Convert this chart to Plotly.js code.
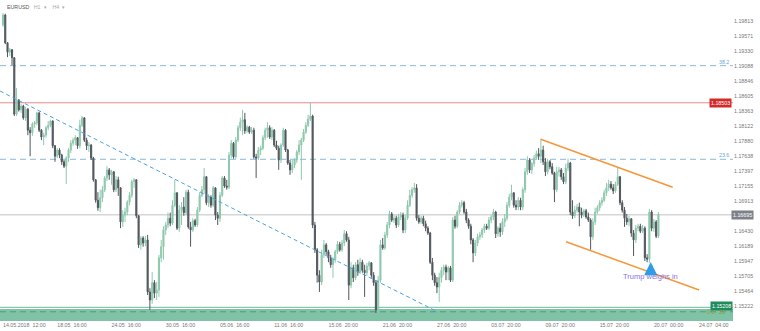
<!DOCTYPE html>
<html><head><meta charset="utf-8">
<script src="https://cdn.plot.ly/plotly-3.0.1.min.js"></script>
<style>html,body{margin:0;padding:0;background:#fff}#chart{width:760px;height:331px}</style>
</head><body><div id="chart"></div>
<script>
// EURUSD H4 candles
const opens = [1.1976,1.1992,1.1947,1.1932,1.1936,1.1923,1.1832,1.1855,1.1839,1.1845,1.1826,1.1840,1.1806,1.1802,1.1816,1.1818,1.1834,1.1806,1.1795,1.1798,
1.1810,1.1814,1.1821,1.1781,1.1764,1.1774,1.1766,1.1755,1.1748,1.1761,1.1774,1.1785,1.1790,1.1794,1.1781,1.1814,1.1826,1.1790,1.1781,1.1782,
1.1761,1.1726,1.1693,1.1681,1.1697,1.1710,1.1729,1.1742,1.1734,1.1739,1.1710,1.1726,1.1713,1.1658,1.1669,1.1674,1.1690,1.1701,1.1723,1.1726,
1.1668,1.1621,1.1632,1.1624,1.1629,1.1545,1.1532,1.1560,1.1543,1.1548,1.1600,1.1618,1.1645,1.1653,1.1664,1.1656,1.1685,1.1705,1.1648,1.1677,
1.1682,1.1673,1.1706,1.1650,1.1645,1.1660,1.1653,1.1677,1.1701,1.1710,1.1731,1.1689,1.1698,1.1685,1.1713,1.1669,1.1664,1.1701,1.1729,1.1716,
1.1714,1.1766,1.1785,1.1763,1.1790,1.1810,1.1819,1.1823,1.1805,1.1811,1.1803,1.1806,1.1763,1.1761,1.1774,1.1777,1.1794,1.1806,1.1810,1.1795,
1.1806,1.1782,1.1777,1.1758,1.1782,1.1806,1.1774,1.1753,1.1742,1.1750,1.1758,1.1771,1.1782,1.1790,1.1803,1.1814,1.1824,1.1829,1.1653,1.1613,
1.1572,1.1561,1.1605,1.1621,1.1610,1.1600,1.1589,1.1597,1.1610,1.1622,1.1613,1.1624,1.1639,1.1629,1.1556,1.1584,1.1568,1.1589,1.1577,1.1593,
1.1580,1.1576,1.1587,1.1592,1.1572,1.1560,1.1516,1.1564,1.1621,1.1616,1.1637,1.1653,1.1671,1.1661,1.1664,1.1653,1.1666,1.1669,1.1645,1.1664,
1.1685,1.1701,1.1710,1.1713,1.1664,1.1658,1.1664,1.1655,1.1648,1.1640,1.1593,1.1572,1.1560,1.1553,1.1568,1.1580,1.1585,1.1577,1.1584,1.1564,
1.1661,1.1651,1.1674,1.1685,1.1689,1.1674,1.1661,1.1651,1.1629,1.1608,1.1624,1.1634,1.1637,1.1645,1.1651,1.1648,1.1661,1.1666,1.1674,1.1639,
1.1648,1.1642,1.1658,1.1664,1.1685,1.1698,1.1705,1.1685,1.1682,1.1693,1.1682,1.1710,1.1739,1.1758,1.1742,1.1752,1.1761,1.1768,1.1764,1.1774,
1.1755,1.1739,1.1755,1.1747,1.1737,1.1710,1.1739,1.1742,1.1731,1.1723,1.1745,1.1753,1.1674,1.1668,1.1677,1.1682,1.1674,1.1669,1.1676,1.1666,
1.1661,1.1634,1.1658,1.1674,1.1681,1.1689,1.1693,1.1705,1.1713,1.1719,1.1713,1.1708,1.1719,1.1731,1.1689,1.1677,1.1664,1.1658,1.1663,1.1640,
1.1629,1.1648,1.1651,1.1643,1.1648,1.1600,1.1598,1.1674,1.1648,1.1658,1.1635];
const highs = [1.1995,1.1994,1.1948,1.1939,1.1937,1.1924,1.1874,1.1856,1.1848,1.1847,1.1844,1.1842,1.1811,1.1819,1.1821,1.1836,1.1836,1.1808,1.1802,1.1813,
1.1821,1.1823,1.1822,1.1782,1.1777,1.1777,1.1768,1.1758,1.1764,1.1777,1.1790,1.1794,1.1798,1.1795,1.1823,1.1829,1.1827,1.1794,1.1787,1.1784,
1.1763,1.1727,1.1706,1.1710,1.1716,1.1732,1.1748,1.1745,1.1742,1.1740,1.1732,1.1731,1.1714,1.1677,1.1681,1.1693,1.1706,1.1726,1.1729,1.1727,
1.1669,1.1635,1.1635,1.1635,1.1637,1.1551,1.1577,1.1564,1.1561,1.1605,1.1629,1.1651,1.1658,1.1673,1.1673,1.1693,1.1726,1.1706,1.1685,1.1690,
1.1698,1.1710,1.1710,1.1658,1.1664,1.1663,1.1682,1.1706,1.1716,1.1745,1.1732,1.1703,1.1701,1.1716,1.1714,1.1674,1.1706,1.1732,1.1732,1.1726,
1.1771,1.1790,1.1787,1.1795,1.1814,1.1826,1.1839,1.1834,1.1814,1.1813,1.1811,1.1810,1.1768,1.1779,1.1781,1.1798,1.1810,1.1819,1.1814,1.1811,
1.1808,1.1789,1.1781,1.1785,1.1810,1.1808,1.1776,1.1758,1.1758,1.1761,1.1774,1.1790,1.1794,1.1808,1.1819,1.1831,1.1850,1.1831,1.1658,1.1616,
1.1580,1.1613,1.1629,1.1624,1.1613,1.1605,1.1601,1.1613,1.1627,1.1626,1.1629,1.1645,1.1643,1.1634,1.1593,1.1589,1.1593,1.1597,1.1600,1.1597,
1.1589,1.1592,1.1595,1.1593,1.1577,1.1564,1.1571,1.1629,1.1632,1.1642,1.1658,1.1676,1.1674,1.1669,1.1668,1.1671,1.1674,1.1673,1.1669,1.1693,
1.1710,1.1714,1.1721,1.1719,1.1669,1.1668,1.1668,1.1660,1.1651,1.1642,1.1600,1.1576,1.1569,1.1576,1.1585,1.1589,1.1589,1.1587,1.1587,1.1666,
1.1668,1.1677,1.1690,1.1693,1.1692,1.1679,1.1664,1.1655,1.1632,1.1629,1.1639,1.1642,1.1648,1.1655,1.1655,1.1666,1.1669,1.1679,1.1676,1.1651,
1.1656,1.1664,1.1671,1.1690,1.1703,1.1718,1.1706,1.1693,1.1698,1.1697,1.1714,1.1745,1.1764,1.1761,1.1755,1.1766,1.1773,1.1777,1.1792,1.1781,
1.1761,1.1760,1.1758,1.1753,1.1739,1.1747,1.1747,1.1745,1.1737,1.1752,1.1760,1.1755,1.1693,1.1684,1.1687,1.1689,1.1681,1.1679,1.1679,1.1673,
1.1664,1.1664,1.1681,1.1685,1.1693,1.1698,1.1710,1.1721,1.1726,1.1724,1.1719,1.1723,1.1745,1.1732,1.1693,1.1682,1.1671,1.1668,1.1664,1.1645,
1.1653,1.1655,1.1655,1.1653,1.1651,1.1606,1.1679,1.1677,1.1663,1.1661,1.1674];
const lows = [1.1973,1.1945,1.1924,1.1926,1.1911,1.1829,1.1829,1.1836,1.1834,1.1823,1.1821,1.1798,1.1764,1.1797,1.1810,1.1814,1.1803,1.1790,1.1782,1.1794,
1.1806,1.1811,1.1777,1.1755,1.1761,1.1761,1.1750,1.1745,1.1719,1.1755,1.1769,1.1781,1.1782,1.1776,1.1777,1.1811,1.1787,1.1774,1.1771,1.1758,
1.1723,1.1689,1.1676,1.1674,1.1690,1.1706,1.1724,1.1726,1.1718,1.1706,1.1706,1.1700,1.1648,1.1650,1.1658,1.1669,1.1685,1.1697,1.1713,1.1664,
1.1616,1.1613,1.1618,1.1619,1.1540,1.1516,1.1526,1.1535,1.1532,1.1537,1.1593,1.1597,1.1637,1.1648,1.1651,1.1653,1.1682,1.1645,1.1642,1.1653,
1.1668,1.1669,1.1647,1.1618,1.1642,1.1650,1.1650,1.1674,1.1698,1.1703,1.1685,1.1682,1.1681,1.1682,1.1661,1.1653,1.1658,1.1698,1.1713,1.1710,
1.1711,1.1761,1.1760,1.1760,1.1787,1.1805,1.1798,1.1800,1.1802,1.1800,1.1800,1.1760,1.1729,1.1758,1.1766,1.1774,1.1790,1.1794,1.1792,1.1790,
1.1779,1.1774,1.1742,1.1753,1.1779,1.1771,1.1750,1.1734,1.1737,1.1745,1.1753,1.1766,1.1726,1.1787,1.1800,1.1811,1.1821,1.1648,1.1608,1.1560,
1.1545,1.1556,1.1600,1.1605,1.1593,1.1584,1.1568,1.1592,1.1606,1.1610,1.1610,1.1619,1.1626,1.1532,1.1551,1.1561,1.1564,1.1571,1.1574,1.1576,
1.1537,1.1571,1.1580,1.1568,1.1555,1.1511,1.1511,1.1560,1.1613,1.1613,1.1632,1.1648,1.1658,1.1656,1.1648,1.1650,1.1661,1.1640,1.1640,1.1661,
1.1682,1.1697,1.1705,1.1660,1.1655,1.1655,1.1651,1.1643,1.1637,1.1590,1.1564,1.1555,1.1543,1.1529,1.1560,1.1572,1.1564,1.1564,1.1561,1.1561,
1.1647,1.1648,1.1671,1.1681,1.1671,1.1656,1.1647,1.1622,1.1593,1.1603,1.1619,1.1629,1.1632,1.1640,1.1645,1.1645,1.1656,1.1661,1.1632,1.1634,
1.1634,1.1637,1.1650,1.1660,1.1681,1.1693,1.1681,1.1677,1.1677,1.1677,1.1677,1.1705,1.1734,1.1737,1.1735,1.1747,1.1758,1.1758,1.1753,1.1750,
1.1732,1.1735,1.1743,1.1734,1.1690,1.1706,1.1731,1.1726,1.1719,1.1719,1.1740,1.1669,1.1663,1.1664,1.1673,1.1651,1.1664,1.1666,1.1663,1.1658,
1.1613,1.1629,1.1653,1.1671,1.1676,1.1684,1.1690,1.1700,1.1708,1.1710,1.1703,1.1705,1.1716,1.1685,1.1673,1.1650,1.1653,1.1651,1.1634,1.1603,
1.1624,1.1643,1.1640,1.1640,1.1595,1.1593,1.1592,1.1643,1.1642,1.1632,1.1632];
const closes = [1.1992,1.1947,1.1932,1.1936,1.1923,1.1832,1.1855,1.1839,1.1845,1.1826,1.1840,1.1806,1.1802,1.1816,1.1818,1.1834,1.1806,1.1795,1.1798,1.1810,
1.1814,1.1821,1.1781,1.1764,1.1774,1.1766,1.1755,1.1748,1.1761,1.1774,1.1785,1.1790,1.1794,1.1781,1.1814,1.1826,1.1790,1.1781,1.1782,1.1761,
1.1726,1.1693,1.1681,1.1697,1.1710,1.1729,1.1742,1.1734,1.1739,1.1710,1.1726,1.1713,1.1658,1.1669,1.1674,1.1690,1.1701,1.1723,1.1726,1.1668,
1.1621,1.1632,1.1624,1.1629,1.1545,1.1532,1.1560,1.1543,1.1548,1.1600,1.1618,1.1645,1.1653,1.1664,1.1656,1.1685,1.1705,1.1648,1.1677,1.1682,
1.1673,1.1706,1.1650,1.1645,1.1660,1.1653,1.1677,1.1701,1.1710,1.1731,1.1689,1.1698,1.1685,1.1713,1.1669,1.1664,1.1701,1.1729,1.1716,1.1714,
1.1766,1.1785,1.1763,1.1790,1.1810,1.1819,1.1823,1.1805,1.1811,1.1803,1.1806,1.1763,1.1761,1.1774,1.1777,1.1794,1.1806,1.1810,1.1795,1.1806,
1.1782,1.1777,1.1758,1.1782,1.1806,1.1774,1.1753,1.1742,1.1750,1.1758,1.1771,1.1782,1.1790,1.1803,1.1814,1.1824,1.1829,1.1653,1.1613,1.1572,
1.1561,1.1605,1.1621,1.1610,1.1600,1.1589,1.1597,1.1610,1.1622,1.1613,1.1624,1.1639,1.1629,1.1556,1.1584,1.1568,1.1589,1.1577,1.1593,1.1580,
1.1576,1.1587,1.1592,1.1572,1.1560,1.1516,1.1564,1.1621,1.1616,1.1637,1.1653,1.1671,1.1661,1.1664,1.1653,1.1666,1.1669,1.1645,1.1664,1.1685,
1.1701,1.1710,1.1713,1.1664,1.1658,1.1664,1.1655,1.1648,1.1640,1.1593,1.1572,1.1560,1.1553,1.1568,1.1580,1.1585,1.1577,1.1584,1.1564,1.1661,
1.1651,1.1674,1.1685,1.1689,1.1674,1.1661,1.1651,1.1629,1.1608,1.1624,1.1634,1.1637,1.1645,1.1651,1.1648,1.1661,1.1666,1.1674,1.1639,1.1648,
1.1642,1.1658,1.1664,1.1685,1.1698,1.1705,1.1685,1.1682,1.1693,1.1682,1.1710,1.1739,1.1758,1.1742,1.1752,1.1761,1.1768,1.1764,1.1774,1.1755,
1.1739,1.1755,1.1747,1.1737,1.1710,1.1739,1.1742,1.1731,1.1723,1.1745,1.1753,1.1674,1.1668,1.1677,1.1682,1.1674,1.1669,1.1676,1.1666,1.1661,
1.1634,1.1658,1.1674,1.1681,1.1689,1.1693,1.1705,1.1713,1.1719,1.1713,1.1708,1.1719,1.1731,1.1689,1.1677,1.1664,1.1658,1.1663,1.1640,1.1629,
1.1648,1.1651,1.1643,1.1648,1.1600,1.1598,1.1674,1.1648,1.1658,1.1635,1.1670];

// axis labels
const xTickIdx = [0,24,48,72,96,120,144,168,192,216,240,264,288,308];
const xTickText = ['14.05.2018  12:00','18.05  16:00','24.05  16:00','30.05  16:00','05.06  16:00','11.06  16:00','15.06  20:00',
  '21.06  20:00','27.06  20:00','03.07  20:00','09.07  20:00','15.07  20:00','20.07  00:00','24.07  04:00'];
const yTicks = ['1.19813','1.19571','1.19330','1.19088','1.18846','1.18605','1.18363','1.18122','1.17880','1.17638','1.17397',
  '1.17155','1.16913','1.16430','1.16189','1.15947','1.15705','1.15464','1.15222','1.14980'];

// drawn levels / objects
const fib382 = 1.19102, fib236 = 1.17591;
const redLevel = 1.18503, redLabel = '1.18503';
const lastPrice = 1.16695, lastLabel = '1.16695';
const zoneTop = 1.15202, zoneFillTop = 1.15175, zoneDash = 1.1513, zoneLabel = '1.15208';
const diagLine = {x: [-1.33, 191.6], y: [1.18693, 1.15142]};
const chanUpper = {x: [237.9, 296.3], y: [1.17914, 1.17139]};
const chanLower = {x: [249.1, 308.0], y: [1.16261, 1.15481]};
const arrowAt = {x: 286.6, y: 1.15933};
const noteText = 'Trump weighs in', noteAt = {x: 286.5, y: 1.15699};

const idx = closes.map((_, i) => i);
const F = 'Liberation Sans, Arial, sans-serif';

const trace = {
  type: 'candlestick', x: idx, open: opens, high: highs, low: lows, close: closes,
  increasing: {line: {color: '#8ec8ad', width: 1}, fillcolor: '#8ec8ad'},
  decreasing: {line: {color: '#51575d', width: 1}, fillcolor: '#51575d'},
  whiskerwidth: 0, hoverinfo: 'none', showlegend: false
};

const hline = (y, color, dash, width) => ({type: 'line', xref: 'paper', x0: 0, x1: 1, y0: y, y1: y,
  line: {color: color, width: width || 1, dash: dash || 'solid'}, layer: 'below'});

const shapes = [
  {type: 'rect', xref: 'paper', x0: 0, x1: 1, y0: 1.1490, y1: zoneFillTop, fillcolor: '#7fc2a6', line: {width: 0}, layer: 'below'},
  hline(zoneTop, '#6db897', 'solid', 1),
  hline(zoneDash, '#4f9c80', '6px,4px', 1),
  hline(fib382, '#86b9de', '6px,4px', 1),
  hline(fib236, '#86b9de', '6px,4px', 1),
  hline(redLevel, '#e68a8a', 'solid', 1),
  hline(lastPrice, '#d6d6d6', 'solid', 1.5),
  {type: 'line', x0: diagLine.x[0], x1: diagLine.x[1], y0: diagLine.y[0], y1: diagLine.y[1], line: {color: '#4ba2df', width: 1, dash: '4px,3px'}},
  {type: 'line', x0: chanUpper.x[0], x1: chanUpper.x[1], y0: chanUpper.y[0], y1: chanUpper.y[1], line: {color: '#f5973a', width: 1.5}},
  {type: 'line', x0: chanLower.x[0], x1: chanLower.x[1], y0: chanLower.y[0], y1: chanLower.y[1], line: {color: '#f5973a', width: 1.5}}
];

const small = {family: F, size: 5.3, color: '#ffffff'};
const annotations = [
  {xref: 'paper', yref: 'paper', x: 0.007, y: 0.978, xanchor: 'left', yanchor: 'middle', showarrow: false,
   text: '<span style="color:#555">EURUSD</span>   <span style="color:#aaa">H1  ▾    H4  ▾</span>', font: {family: F, size: 5.3}},
  {xref: 'paper', x: 732/733, y: redLevel, xanchor: 'right', yanchor: 'middle', showarrow: false, text: redLabel,
   bgcolor: '#d42a2a', borderpad: 1, font: small},
  {xref: 'paper', x: 1, y: lastPrice, xanchor: 'left', yanchor: 'middle', xshift: -2, showarrow: false, text: lastLabel,
   bgcolor: '#7d8288', borderpad: 1, font: small},
  {xref: 'paper', x: 1, y: 1.15218, xanchor: 'right', yanchor: 'middle', showarrow: false, text: zoneLabel,
   bgcolor: '#1f8c5c', borderpad: 1, font: small},
  {xref: 'paper', x: 724/733, y: 1.19166, xanchor: 'center', yanchor: 'middle', showarrow: false, text: '38.2',
   font: {family: F, size: 5.3, color: '#6aa8d8'}},
  {xref: 'paper', x: 724/733, y: 1.17660, xanchor: 'center', yanchor: 'middle', showarrow: false, text: '23.6',
   font: {family: F, size: 5.3, color: '#6aa8d8'}},
  {xref: 'paper', x: 716/733, y: 1.1512, xanchor: 'center', yanchor: 'middle', showarrow: false, text: '0.0 · 25',
   font: {family: F, size: 5.3, color: '#9a9a32'}},
  {x: arrowAt.x, y: arrowAt.y, ax: 0, ay: 9, showarrow: true, arrowhead: 2, arrowsize: 0.75, arrowwidth: 3.5,
   arrowcolor: '#2e9de6', text: ''},
  {x: noteAt.x, y: noteAt.y, xanchor: 'center', yanchor: 'middle', showarrow: false, text: noteText,
   font: {family: F, size: 7.5, color: '#8e72da'}}
];

const layout = {
  width: 760, height: 331, autosize: false,
  margin: {l: 0, r: 27, t: 0, b: 10, pad: 0},
  paper_bgcolor: '#ffffff', plot_bgcolor: '#ffffff',
  showlegend: false,
  xaxis: {type: 'linear', range: [-1.327, 323.0], tickvals: xTickIdx, ticktext: xTickText,
    ticklabelposition: 'outside right', showgrid: false, zeroline: false, showline: false, ticks: '',
    tickfont: {family: F, size: 5.3, color: '#777'}, rangeslider: {visible: false}, fixedrange: true},
  yaxis: {side: 'right', range: [1.14981, 1.20162], tickvals: yTicks.map(Number), ticktext: yTicks,
    showgrid: false, zeroline: false, showline: false, ticks: '',
    tickfont: {family: F, size: 5.3, color: '#777'}, fixedrange: true},
  shapes: shapes, annotations: annotations
};

Plotly.newPlot('chart', [trace], layout, {staticPlot: true, displayModeBar: false});
</script>
</body></html>
